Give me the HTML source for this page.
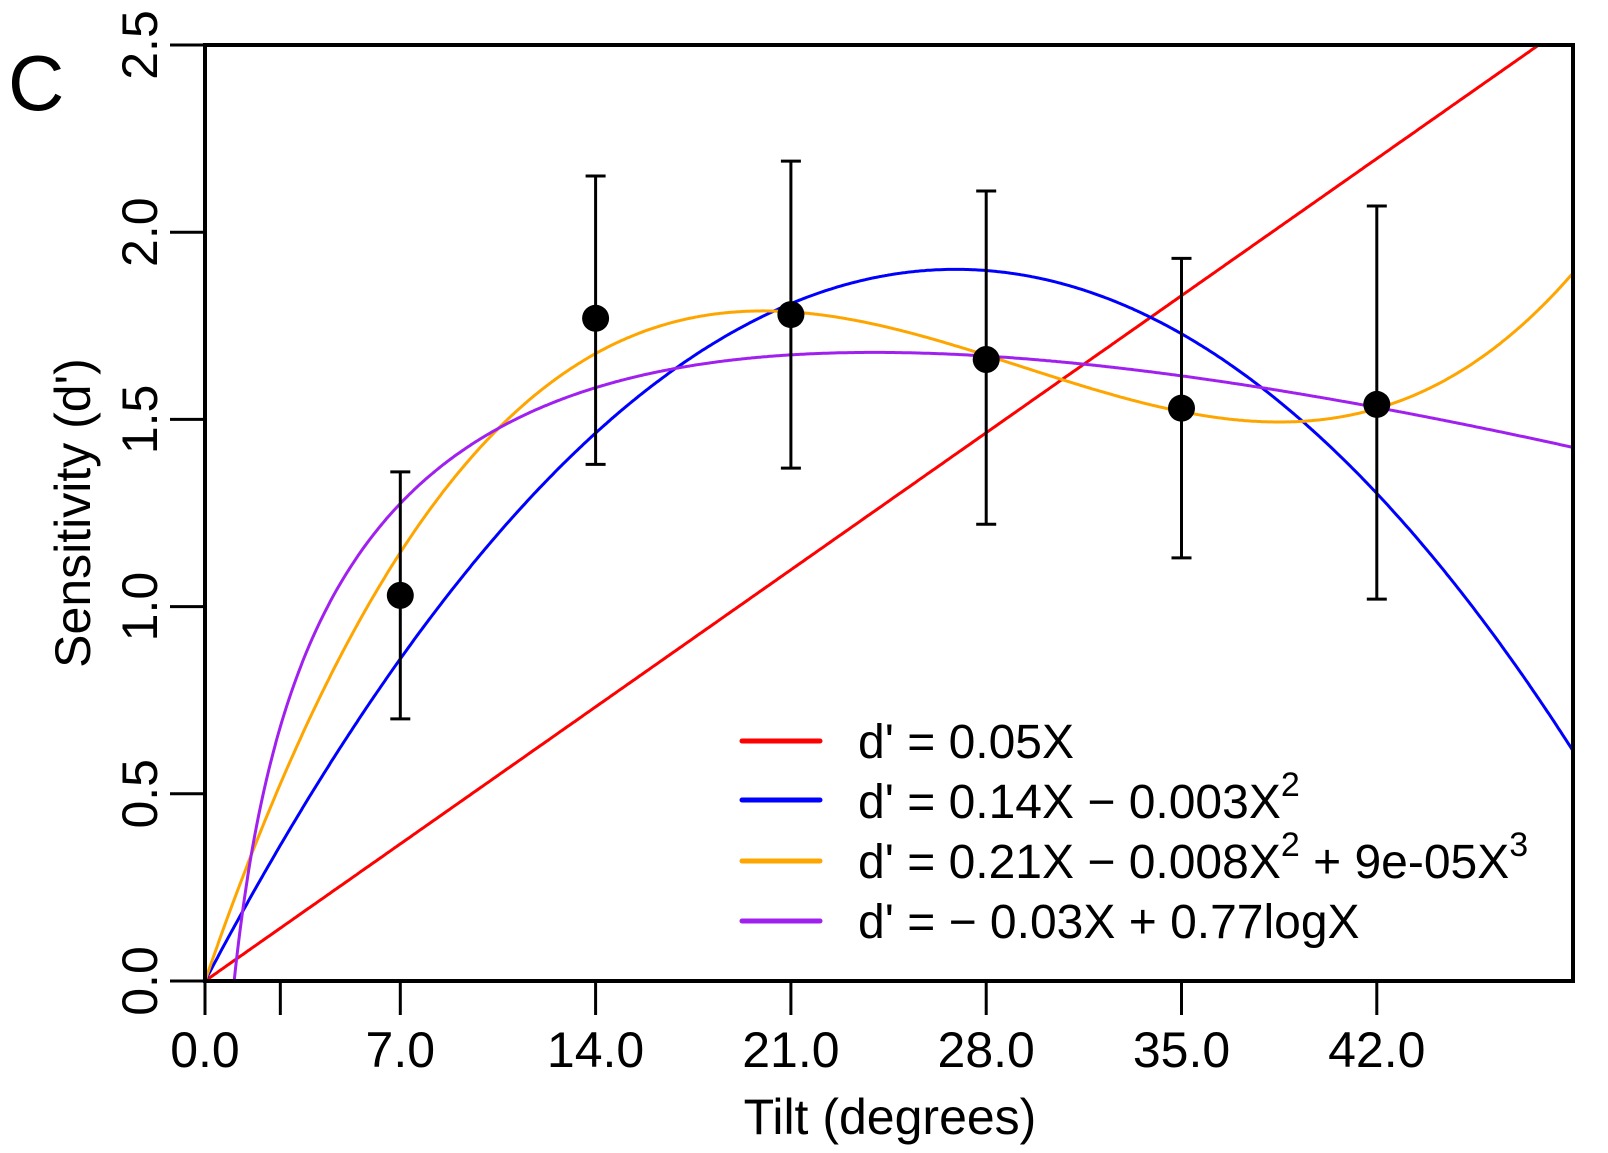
<!DOCTYPE html>
<html><head><meta charset="utf-8"><style>
html,body{margin:0;padding:0;background:#fff;}
svg{display:block;font-family:"Liberation Sans",sans-serif;}
</style></head><body>
<svg id="s" width="1608" height="1153" viewBox="0 0 1608 1153" xmlns="http://www.w3.org/2000/svg">
<defs><clipPath id="c"><rect x="205" y="45" width="1368" height="948"/></clipPath></defs>
<text x="8" y="110" font-size="78">C</text>
<g id="curves" clip-path="url(#c)" fill="none" stroke-width="3"></g>
<g id="pts"></g>
<rect x="205" y="45" width="1368" height="936" fill="none" stroke="#000" stroke-width="4"/>
<g id="ax" stroke="#000" stroke-width="3"></g>
<g font-size="50" text-anchor="middle" id="xl"></g>
<g font-size="50" text-anchor="middle" id="yl"></g>
<text x="890" y="1134" font-size="50" text-anchor="middle">Tilt (degrees)</text>
<text transform="translate(90,513) rotate(-90)" font-size="50" text-anchor="middle">Sensitivity (d')</text>
<g stroke-width="5" stroke-linecap="round">
<line x1="742" y1="741" x2="820" y2="741" stroke="#ff0000"/>
<line x1="742" y1="800" x2="820" y2="800" stroke="#0000ff"/>
<line x1="742" y1="861" x2="820" y2="861" stroke="#ffa500"/>
<line x1="742" y1="921" x2="820" y2="921" stroke="#a020f0"/>
</g>
<g font-size="48">
<text x="858" y="758">d' = 0.05X</text>
<text x="858" y="818">d' = 0.14X − 0.003X<tspan font-size="34" dy="-22">2</tspan></text>
<text x="858" y="878">d' = 0.21X − 0.008X<tspan font-size="34" dy="-22">2</tspan><tspan dy="22"> + 9e-05X</tspan><tspan font-size="34" dy="-22">3</tspan></text>
<text x="858" y="938">d' = − 0.03X + 0.77logX</text>
</g>
</svg>
<script>
var NS="http://www.w3.org/2000/svg";
function X(v){return 205+27.9*v;}function Y(v){return 981-374.4*v;}
function el(p,t,a,txt){var e=document.createElementNS(NS,t);for(var k in a)e.setAttribute(k,a[k]);if(txt)e.textContent=txt;document.getElementById(p).appendChild(e);return e;}
var c=9.37e-5;
var fs=[["#ff0000",function(x){return 0.0523*x;}],
["#0000ff",function(x){return 0.1413*x-0.002626*x*x;}],
["#ffa500",function(x){return c*(2310*x-87.75*x*x+x*x*x);}],
["#a020f0",function(x){return -0.03214*x+0.771*Math.log(x);}]];
fs.forEach(function(f,i){var d="";var s=i==3?1.0:0;for(var x=s;x<=49.2;x+=0.05){var y=f[1](x);if(i==3&&y<-0.03)continue;if(i!=3&&y<0)continue;d+=(d?"L":"M")+X(x).toFixed(1)+","+Y(y).toFixed(1);}el("curves","path",{d:d,stroke:f[0]});});
var pts=[[7,1.03,0.70,1.36],[14,1.77,1.38,2.15],[21,1.78,1.37,2.19],[28,1.66,1.22,2.11],[35,1.53,1.13,1.93],[42,1.54,1.02,2.07]];
pts.forEach(function(p){var x=X(p[0]);el("pts","path",{d:"M"+x+","+Y(p[2])+"V"+Y(p[3])+"M"+(x-10)+","+Y(p[2])+"h20M"+(x-10)+","+Y(p[3])+"h20",stroke:"#000","stroke-width":3,fill:"none"});el("pts","circle",{cx:x,cy:Y(p[1]),r:13.5,fill:"#000"});});
[0,2.7,7,14,21,28,35,42].forEach(function(v){el("ax","line",{x1:X(v),x2:X(v),y1:981,y2:1015});});
[0,7,14,21,28,35,42].forEach(function(v){el("xl","text",{x:X(v),y:1067},v.toFixed(1));});
[0,0.5,1,1.5,2,2.5].forEach(function(v){el("ax","line",{x1:170,x2:205,y1:Y(v),y2:Y(v)});el("yl","text",{transform:"translate(157,"+Y(v)+") rotate(-90)"},v.toFixed(1));});
</script>
</body></html>
